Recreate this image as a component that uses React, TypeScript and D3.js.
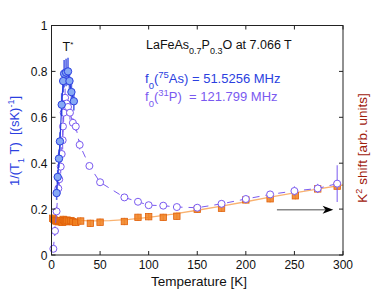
import React from "react";
import * as d3 from "d3";

// 75As, filled circles (left axis)
const asT = [5.3, 6.4, 7.7, 8.7, 10.5, 12, 13, 15, 17, 18.5, 20.5, 23];
const asV = [0.27, 0.34, 0.42, 0.495, 0.655, 0.758, 0.79, 0.795, 0.8, 0.758, 0.71, 0.67];
const asErr = [0.03, 0.03, 0.04, 0.04, 0.05, 0.05, 0.06, 0.06, 0.06, 0.05, 0.05, 0.04];

// 31P, open circles (left axis)
const pT = [1.9, 3.6, 5.2, 7, 8, 9.5, 10.5, 11.5, 11.8, 12.5, 14, 15.5, 17, 19, 22, 25, 29, 39, 50, 75, 89, 100, 115, 129, 150, 175, 200, 225, 250, 274, 294];
const pV = [0.027, 0.105, 0.19, 0.29, 0.33, 0.385, 0.44, 0.5, 0.56, 0.62, 0.685, 0.66, 0.645, 0.62, 0.576, 0.56, 0.48, 0.388, 0.317, 0.251, 0.232, 0.217, 0.215, 0.209, 0.206, 0.223, 0.244, 0.264, 0.279, 0.29, 0.311];
const pErr = [0.01, 0.02, 0.02, 0.03, 0.03, 0.03, 0.03, 0.04, 0.04, 0.04, 0.04, 0.04, 0.03, 0.03, 0.02, 0.02, 0.02, 0.01, 0.01, 0.01, 0.01, 0.01, 0.01, 0.01, 0.01, 0.015, 0.015, 0.015, 0.02, 0.02, 0.08];

// K^2 shift, orange squares (right axis, arb. units)
const kT = [1.2, 2.5, 4, 5, 6, 7, 8, 9, 10, 11, 12, 13, 14, 15, 16, 18, 20, 22, 25, 30, 40, 50, 75, 89, 100, 115, 129, 150, 175, 200, 225, 251, 274, 294];
const kV = [0.16, 0.155, 0.15, 0.148, 0.15, 0.145, 0.15, 0.148, 0.15, 0.142, 0.155, 0.15, 0.148, 0.145, 0.152, 0.148, 0.15, 0.145, 0.142, 0.148, 0.138, 0.143, 0.146, 0.164, 0.167, 0.164, 0.169, 0.199, 0.204, 0.24, 0.245, 0.258, 0.288, 0.3];
const kErr = 0.016;

// fit to K^2 shift
const fitT = [0, 20, 40, 60, 80, 100, 125, 150, 175, 200, 225, 250, 275, 300];
const fitV = [0.162, 0.152, 0.149, 0.15, 0.155, 0.164, 0.178, 0.195, 0.213, 0.232, 0.252, 0.271, 0.288, 0.305];

const xTicks = [0, 50, 100, 150, 200, 250, 300];
const yTicks = [0, 0.2, 0.4, 0.6, 0.8, 1];

const W = 374;
const H = 289;
const m = { left: 51.5, right: 31, top: 25.5, bottom: 34 };

const cAs = "#2b3fe0";
const cAsFill = "#86a9f5";
const cP = "#7a5af0";
const cK = "#f07f1e";
const cKfit = "#f9b270";
const font = "'Liberation Sans', Arial, sans-serif";

export default function App() {
  const x = d3.scaleLinear().domain([0, 300]).range([m.left, W - m.right]);
  const y = d3.scaleLinear().domain([0, 1]).range([H - m.bottom, m.top]);
  const line = d3.line<[number, number]>().x((d) => x(d[0])).y((d) => y(d[1]));
  const asPts = asT.map((t, i) => [t, asV[i]] as [number, number]);
  const pPts = pT.map((t, i) => [t, pV[i]] as [number, number]);
  const fitPts = fitT.map((t, i) => [t, fitV[i]] as [number, number]);
  const x0 = x(0), x1 = x(300), y0 = y(0), y1 = y(1);

  return (
    <div style={{ position: "absolute", left: 0, top: 0 }}>
      <svg width={W} height={H} style={{ display: "block", background: "#fff" }} fontFamily={font}>
        {/* K^2 shift */}
        <path d={line(fitPts) || ""} fill="none" stroke={cKfit} strokeWidth={1.3} />
        {kT.map((t, i) => (
          <line key={"ke" + i} x1={x(t)} x2={x(t)} y1={y(kV[i] - kErr)} y2={y(kV[i] + kErr)} stroke={cKfit} strokeWidth={1.3} />
        ))}
        {kT.map((t, i) => (
          <rect key={"k" + i} x={x(t) - 3.2} y={y(kV[i]) - 3.2} width={6.4} height={6.4} fill={cK} stroke="#e0600a" strokeWidth={0.8} fillOpacity={0.85} />
        ))}
        {/* 31P */}
        <path d={line(pPts) || ""} fill="none" stroke={cP} strokeWidth={1} strokeDasharray="7,6" />
        {pT.map((t, i) => (
          <line key={"pe" + i} x1={x(t)} x2={x(t)} y1={y(pV[i] - pErr[i])} y2={y(pV[i] + pErr[i])} stroke={cP} strokeWidth={1} />
        ))}
        {pT.map((t, i) => (
          <circle key={"p" + i} cx={x(t)} cy={y(pV[i])} r={3.5} fill="#fff" stroke={cP} strokeWidth={1} />
        ))}
        {/* 75As */}
        <path d={line(asPts) || ""} fill="none" stroke={cAs} strokeWidth={1.2} />
        {asT.map((t, i) => (
          <line key={"ae" + i} x1={x(t)} x2={x(t)} y1={y(asV[i] - asErr[i])} y2={y(asV[i] + asErr[i])} stroke={cAs} strokeWidth={1.6} strokeOpacity={0.8} />
        ))}
        {asT.map((t, i) => (
          <circle key={"a" + i} cx={x(t)} cy={y(asV[i])} r={3.7} fill={cAsFill} stroke={cAs} strokeWidth={1} />
        ))}

        {/* arrow */}
        <line x1={x(232)} x2={x(282)} y1={y(0.197)} y2={y(0.197)} stroke="#888" strokeWidth={1.5} />
        <path d={`M${x(290)},${y(0.197)} L${x(279)},${y(0.197) - 4} L${x(282)},${y(0.197)} L${x(279)},${y(0.197) + 4}Z`} fill="#000" />

        {/* frame and ticks */}
        <rect x={x0} y={y1} width={x1 - x0} height={y0 - y1} fill="none" stroke="#222" strokeWidth={1} />
        {xTicks.map((t) => (
          <g key={"xt" + t}>
            <line x1={x(t)} x2={x(t)} y1={y0} y2={y0 - 4} stroke="#222" />
            <line x1={x(t)} x2={x(t)} y1={y1} y2={y1 + 4} stroke="#222" />
            <text x={x(t)} y={y0 + 13.5} fontSize={12} textAnchor="middle" fill="#111">{t}</text>
          </g>
        ))}
        {yTicks.map((t) => (
          <g key={"yt" + t}>
            <line x1={x0} x2={x0 + 4} y1={y(t)} y2={y(t)} stroke="#222" />
            <line x1={x1} x2={x1 - 4} y1={y(t)} y2={y(t)} stroke="#222" />
            <text x={x0 - 4} y={y(t) + 4.5} fontSize={12} textAnchor="end" fill="#111">{t === 0 || t === 1 ? t : t.toFixed(1)}</text>
          </g>
        ))}

        {/* labels */}
        <text x={199} y={286} fontSize={13.5} textAnchor="middle" fill="#111">Temperature [K]</text>
        <text transform={`translate(18.5,141) rotate(-90)`} fontSize={13} textAnchor="middle" fill={cAs} style={{ whiteSpace: "pre" }}>
          1/(T<tspan baselineShift="sub" fontSize={9}>1</tspan> T)  [(sK)<tspan baselineShift="super" fontSize={9}>-1</tspan>]
        </text>
        <text transform={`translate(367,148) rotate(-90)`} fontSize={13.5} textAnchor="middle" fill="#a0200c">
          K<tspan baselineShift="super" fontSize={9}>2</tspan> shift [arb. units]
        </text>
        <text x={68} y={51} fontSize={12.5} textAnchor="middle" fill="#111">
          T<tspan baselineShift="super" fontSize={8}>*</tspan>
        </text>
        <text x={146} y={49} fontSize={12.5} fill="#111">
          LaFeAs<tspan baselineShift="sub" fontSize={9}>0.7</tspan>P<tspan baselineShift="sub" fontSize={9}>0.3</tspan>O at 7.066 T
        </text>
        <text x={145} y={83} fontSize={13} fill={cAs}>
          f<tspan baselineShift="sub" fontSize={9.5}>0</tspan>(<tspan baselineShift="super" fontSize={9.5}>75</tspan>As) = 51.5256 MHz
        </text>
        <text x={145} y={101} fontSize={13} fill={cP} style={{ whiteSpace: "pre" }}>
          f<tspan baselineShift="sub" fontSize={9.5}>0</tspan>(<tspan baselineShift="super" fontSize={9.5}>31</tspan>P)  = 121.799 MHz
        </text>
      </svg>
    </div>
  );
}
